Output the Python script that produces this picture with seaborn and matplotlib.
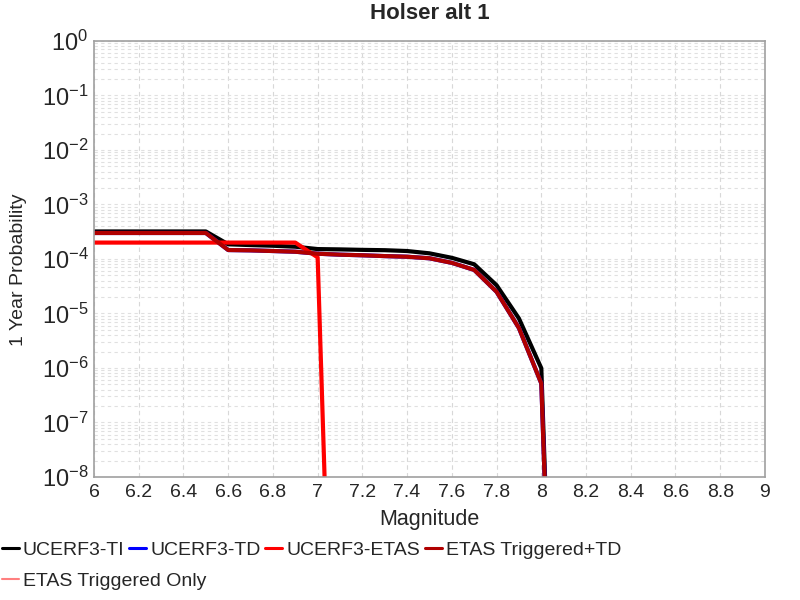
import matplotlib
matplotlib.use("Agg")
import matplotlib.pyplot as plt
import matplotlib.ticker as mticker
from matplotlib.lines import Line2D
import pandas as pd
import seaborn as sns

# magnitude bins (x) and 1-year probabilities
mags = [6.0, 6.1, 6.2, 6.3, 6.4, 6.5, 6.6, 6.7, 6.8, 6.9, 7.0,
        7.1, 7.2, 7.3, 7.4, 7.5, 7.6, 7.7, 7.8, 7.9, 8.0, 8.1]
prob_ti = [3.2e-4, 3.2e-4, 3.2e-4, 3.2e-4, 3.2e-4, 3.2e-4, 1.86e-4, 1.8e-4,
           1.75e-4, 1.68e-4, 1.52e-4, 1.5e-4, 1.47e-4, 1.45e-4, 1.4e-4,
           1.27e-4, 1.05e-4, 8.0e-5, 3.3e-5, 8.1e-6, 9.9e-7, 1e-18]
prob_td = [3.0e-4, 3.0e-4, 3.0e-4, 3.0e-4, 3.0e-4, 3.0e-4, 1.46e-4, 1.44e-4,
           1.4e-4, 1.36e-4, 1.25e-4, 1.2e-4, 1.17e-4, 1.13e-4, 1.1e-4,
           1.03e-4, 8.5e-5, 6.3e-5, 2.5e-5, 5.4e-6, 5.2e-7, 1e-18]
mags_etas = [6.0, 6.1, 6.2, 6.3, 6.4, 6.5, 6.6, 6.7, 6.8, 6.9, 7.0, 7.1]
prob_etas = [2.0e-4, 2.0e-4, 2.0e-4, 2.0e-4, 2.0e-4, 2.0e-4, 2.0e-4, 2.0e-4,
             2.0e-4, 2.0e-4, 1.07e-4, 1e-17]
prob_trig_td = prob_td
mags_trig_only = []
prob_trig_only = []

y_ticks = [1e-8, 1e-7, 1e-6, 1e-5, 1e-4, 1e-3, 1e-2, 1e-1, 1]

names = ["UCERF3-TI", "UCERF3-TD", "UCERF3-ETAS", "ETAS Triggered+TD", "ETAS Triggered Only"]
colors = ["black", "#0000ff", "#ff0000", "#b00000", "#ff7f7f"]

frames = [
    pd.DataFrame({"mag": mags, "prob": prob_ti, "series": names[0]}),
    pd.DataFrame({"mag": mags, "prob": prob_td, "series": names[1]}),
    pd.DataFrame({"mag": mags_etas, "prob": prob_etas, "series": names[2]}),
    pd.DataFrame({"mag": mags, "prob": prob_trig_td, "series": names[3]}),
    pd.DataFrame({"mag": mags_trig_only, "prob": prob_trig_only, "series": names[4]}),
]
df = pd.concat([f for f in frames if len(f)], ignore_index=True)

sns.set_style("white")
plt.rcParams["font.family"] = ["Liberation Sans", "DejaVu Sans"]
plt.rcParams["mathtext.fontset"] = "custom"
plt.rcParams["mathtext.rm"] = "Liberation Sans"

fig = plt.figure(figsize=(8, 6), dpi=100)
ax = fig.add_axes([0.1175, 0.205, 0.8387, 0.7267])

for name, col in zip(names, colors):
    sub = df[df["series"] == name]
    if len(sub):
        sns.lineplot(data=sub, x="mag", y="prob", color=col, lw=3,
                     ax=ax, legend=False, sort=False)

ax.set_yscale("log")
ax.set_xlim(6, 9)
ax.set_ylim(1e-8, 1)
ax.xaxis.set_major_locator(mticker.MultipleLocator(0.2))
ax.xaxis.set_major_formatter(mticker.FuncFormatter(lambda v, p: f"{v:g}"))
ax.yaxis.set_major_locator(mticker.FixedLocator(y_ticks))
ax.yaxis.set_major_formatter(mticker.LogFormatterSciNotation())
ax.yaxis.set_minor_locator(mticker.LogLocator(base=10, subs=range(2, 10), numticks=20))
ax.yaxis.set_minor_formatter(mticker.NullFormatter())

ax.grid(True, which="major", axis="x", color="#d8d8d8", ls=(0, (4, 3)), lw=0.8)
ax.grid(True, which="both", axis="y", color="#e0e0e0", ls=(0, (3, 3)), lw=0.8)
ax.set_axisbelow(True)
for sp in ax.spines.values():
    sp.set_color("#a0a0a0")
    sp.set_linewidth(1.2)

ax.tick_params(axis="x", which="both", length=0, labelsize=14, pad=5)
ax.tick_params(axis="y", which="both", length=0, labelsize=17, pad=4)

ax.set_xlabel("Magnitude", fontsize=15.5, labelpad=6)
ax.set_ylabel("1 Year Probability", fontsize=14)
ax.yaxis.set_label_coords(-0.1, 0.475)
ax.set_title("Holser alt 1", fontsize=16, fontweight="bold", pad=16)

handles = [Line2D([], [], color=c, lw=2.2) for c in colors[:4]]
handles.append(Line2D([], [], color=colors[4], lw=1.5))
leg_kw = dict(frameon=False, fontsize=14, handlelength=0.88, handletextpad=0.2,
              columnspacing=0.25, borderaxespad=0, borderpad=0)
leg1 = fig.legend(handles[:4], names[:4], ncol=4, loc="center left",
                  bbox_to_anchor=(0.002, 0.083), **leg_kw)
leg2 = fig.legend(handles[4:], names[4:], ncol=1, loc="center left",
                  bbox_to_anchor=(0.002, 0.032), **leg_kw)

fig.savefig("out.png", dpi=100, facecolor="white")
plt.close(fig)
